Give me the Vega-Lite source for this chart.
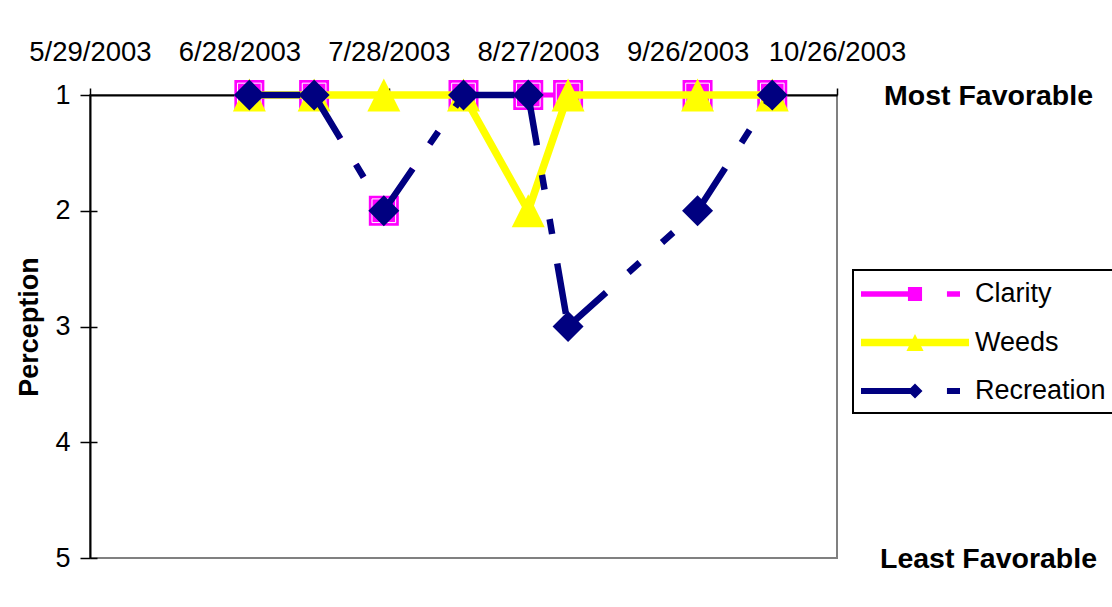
{
  "$schema": "https://vega.github.io/schema/vega-lite/v6.json",
  "width": 747,
  "height": 463,
  "autosize": {"type": "none"},
  "padding": {"left": 90, "top": 95, "right": 275, "bottom": 49},
  "background": "white",
  "config": {
    "font": "Liberation Sans",
    "view": {"stroke": "#808080", "strokeWidth": 2},
    "axis": {"grid": false, "labelColor": "black", "titleColor": "black", "tickColor": "black", "domainColor": "black", "labelFont": "Liberation Sans", "titleFont": "Liberation Sans"}
  },
  "data": {
    "format": {"parse": {"date": "date"}},
    "values": [
      {"date": "2003/06/30", "series": "Clarity", "value": 1},
      {"date": "2003/07/13", "series": "Clarity", "value": 1},
      {"date": "2003/07/27", "series": "Clarity", "value": 2},
      {"date": "2003/08/12", "series": "Clarity", "value": 1},
      {"date": "2003/08/25", "series": "Clarity", "value": 1},
      {"date": "2003/09/02", "series": "Clarity", "value": 1},
      {"date": "2003/09/28", "series": "Clarity", "value": 1},
      {"date": "2003/10/13", "series": "Clarity", "value": 1},
      {"date": "2003/06/30", "series": "Weeds", "value": 1},
      {"date": "2003/07/13", "series": "Weeds", "value": 1},
      {"date": "2003/07/27", "series": "Weeds", "value": 1},
      {"date": "2003/08/12", "series": "Weeds", "value": 1},
      {"date": "2003/08/25", "series": "Weeds", "value": 2},
      {"date": "2003/09/02", "series": "Weeds", "value": 1},
      {"date": "2003/09/28", "series": "Weeds", "value": 1},
      {"date": "2003/10/13", "series": "Weeds", "value": 1},
      {"date": "2003/06/30", "series": "Recreation", "value": 1},
      {"date": "2003/07/13", "series": "Recreation", "value": 1},
      {"date": "2003/07/27", "series": "Recreation", "value": 2},
      {"date": "2003/08/12", "series": "Recreation", "value": 1},
      {"date": "2003/08/25", "series": "Recreation", "value": 1},
      {"date": "2003/09/02", "series": "Recreation", "value": 3},
      {"date": "2003/09/28", "series": "Recreation", "value": 2},
      {"date": "2003/10/13", "series": "Recreation", "value": 1}
    ]
  },
  "resolve": {"axis": {"y": "independent"}},
  "encoding": {
    "x": {
      "field": "date", "type": "temporal",
      "scale": {"domain": [{"year": 2003, "month": 5, "date": 29}, {"year": 2003, "month": 10, "date": 26}], "nice": false},
      "axis": {
        "orient": "top", "title": null,
        "values": [
          {"year": 2003, "month": 5, "date": 29},
          {"year": 2003, "month": 6, "date": 28},
          {"year": 2003, "month": 7, "date": 28},
          {"year": 2003, "month": 8, "date": 27},
          {"year": 2003, "month": 9, "date": 26},
          {"year": 2003, "month": 10, "date": 26}
        ],
        "format": "%-m/%-d/%Y", "labelFontSize": 27.5, "labelPadding": 22, "labelAngle": 0,
        "tickSize": 7, "tickWidth": 1.5, "domainWidth": 2, "labelFlush": false, "labelOverlap": false
      }
    }
  },
  "layer": [
    {
      "transform": [
        {"filter": "datum.series === 'Clarity'"},
        {"window": [{"op": "lead", "field": "date", "as": "date2"}, {"op": "lead", "field": "value", "as": "value2"}], "sort": [{"field": "date", "order": "ascending"}]},
        {"filter": "datum.date2 != null"}
      ],
      "mark": {"type": "rule", "strokeWidth": 5, "strokeDash": [51, 30, 15, 30, 15, 30], "strokeCap": "butt"},
      "encoding": {
        "x2": {"field": "date2"},
        "y": {
          "field": "value", "type": "quantitative",
          "scale": {"domain": [1, 5], "reverse": true, "nice": false, "zero": false},
          "axis": {
            "orient": "left", "values": [1, 2, 3, 4, 5], "format": "d",
            "labelFontSize": 27, "labelPadding": 10, "tickSize": 10, "tickWidth": 1.5, "domainWidth": 2,
            "title": "Perception", "titleFontSize": 27, "titleFontWeight": "bold", "titlePadding": 11
          }
        },
        "y2": {"field": "value2"},
        "color": {
          "field": "series", "type": "nominal",
          "scale": {"domain": ["Clarity", "Weeds", "Recreation"], "range": ["#ff00ff", "#ffff00", "#000080"]},
          "legend": {
            "orient": "none", "legendX": 763, "legendY": 175, "title": null,
            "padding": 9, "strokeColor": "black", "fillColor": "white",
            "symbolSize": 900, "symbolOffset": 38, "labelOffset": 45, "rowPadding": 20.5,
            "labelFontSize": 27, "labelFont": "Liberation Sans", "labelColor": "black", "labelLimit": 400,
            "symbolStrokeWidth": 0,
            "encode": {
              "legend": {"update": {"stroke": {"value": "black"}, "strokeWidth": {"value": 2}}},
              "symbols": {
                "update": {
                  "shape": {"signal": "datum.value === 'Clarity' ? 'M-3.6,-0.18L0.33,-0.18L0.33,0.18L-3.6,0.18Z M2.13,-0.18L3,-0.18L3,0.18L2.13,0.18Z M-0.47,-0.47L0.47,-0.47L0.47,0.47L-0.47,0.47Z' : datum.value === 'Weeds' ? 'M-3.6,-0.25L3.6,-0.25L3.6,0.25L-3.6,0.25Z M0,-0.57L0.57,0.57L-0.57,0.57Z' : 'M-3.6,-0.2L0.2,-0.2L0.2,0.2L-3.6,0.2Z M2.13,-0.2L3,-0.2L3,0.2L2.13,0.2Z M0,-0.5L0.5,0L0,0.5L-0.5,0Z'"},
                  "fill": {"signal": "datum.value === 'Clarity' ? '#ff00ff' : datum.value === 'Weeds' ? '#ffff00' : '#000080'"},
                  "stroke": {"value": "transparent"},
                  "strokeWidth": {"value": 0},
                  "opacity": {"value": 1}
                }
              }
            }
          }
        }
      }
    },
    {
      "transform": [{"filter": "datum.series === 'Clarity'"}],
      "mark": {"type": "point", "shape": "square", "filled": true, "size": 900, "color": "#ff00ff", "opacity": 1, "strokeWidth": 0},
      "encoding": {
        "y": {
          "field": "value", "type": "quantitative",
          "axis": {"orient": "left", "values": [2, 3, 4, 5], "labels": false, "domain": false, "tickSize": -7, "tickWidth": 1.5, "title": null}
        }
      }
    },
    {
      "transform": [{"filter": "datum.series === 'Clarity'"}],
      "mark": {"type": "point", "shape": "square", "filled": false, "size": 560, "color": "white", "opacity": 1, "strokeWidth": 1},
      "encoding": {
        "y": {"field": "value", "type": "quantitative", "axis": null}
      }
    },
    {
      "transform": [
        {"filter": "datum.series === 'Weeds'"},
        {"window": [{"op": "lead", "field": "date", "as": "date2"}, {"op": "lead", "field": "value", "as": "value2"}], "sort": [{"field": "date", "order": "ascending"}]},
        {"filter": "datum.date2 != null"}
      ],
      "mark": {"type": "rule", "strokeWidth": 7.5, "strokeCap": "round", "color": "#ffff00"},
      "encoding": {
        "x2": {"field": "date2"},
        "y": {"field": "value", "type": "quantitative", "axis": null},
        "y2": {"field": "value2"}
      }
    },
    {
      "transform": [{"filter": "datum.series === 'Weeds'"}],
      "mark": {"type": "point", "shape": "M0,-1L1,1L-1,1Z", "filled": true, "size": 1089, "color": "#ffff00", "opacity": 1, "strokeWidth": 0},
      "encoding": {
        "y": {
          "field": "value", "type": "quantitative",
          "axis": {
            "orient": "right", "values": [1, 5], "labelExpr": "datum.value == 1 ? 'Most Favorable' : 'Least Favorable'",
            "ticks": false, "tickSize": 0, "domain": false, "title": null, "labelLimit": 400,
            "labelFontSize": 28.5, "labelFontWeight": "bold", "labelAlign": "center", "labelBaseline": "middle", "labelPadding": 151
          }
        }
      }
    },
    {
      "transform": [
        {"filter": "datum.series === 'Recreation'"},
        {"window": [{"op": "lead", "field": "date", "as": "date2"}, {"op": "lead", "field": "value", "as": "value2"}], "sort": [{"field": "date", "order": "ascending"}]},
        {"filter": "datum.date2 != null"}
      ],
      "mark": {"type": "rule", "strokeWidth": 6.5, "strokeDash": [51, 30, 15, 30, 15, 30], "strokeCap": "butt", "color": "#000080"},
      "encoding": {
        "x2": {"field": "date2"},
        "y": {"field": "value", "type": "quantitative", "axis": null},
        "y2": {"field": "value2"}
      }
    },
    {
      "transform": [{"filter": "datum.series === 'Recreation'"}],
      "mark": {"type": "point", "shape": "diamond", "filled": true, "size": 961, "color": "#000080", "opacity": 1, "strokeWidth": 0},
      "encoding": {
        "y": {"field": "value", "type": "quantitative", "axis": null}
      }
    }
  ]
}
